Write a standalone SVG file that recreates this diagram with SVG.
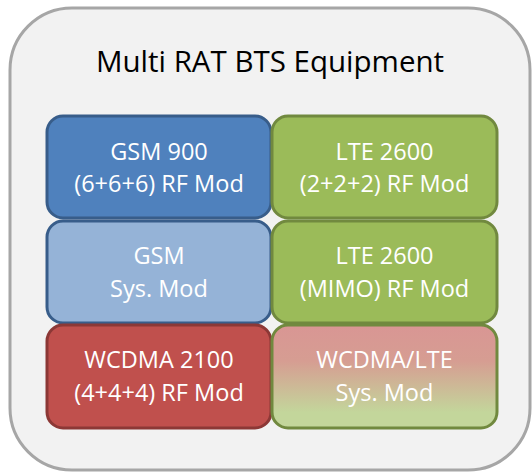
<svg xmlns="http://www.w3.org/2000/svg" width="532" height="472" viewBox="0 0 532 472">
<defs>
<linearGradient id="g1" x1="0" y1="0" x2="0" y2="1">
<stop offset="0" stop-color="#d99694"/>
<stop offset="0.35" stop-color="#d69d92"/>
<stop offset="0.85" stop-color="#c3d69b"/>
<stop offset="1" stop-color="#c3d69b"/>
</linearGradient>
</defs>
<style>
.box{stroke-width:3}
.t{font-family:"Open Sans","Liberation Sans",sans-serif;font-size:23.5px;fill:#ffffff;text-anchor:middle}
.title{font-family:"Open Sans","Liberation Sans",sans-serif;font-size:29.5px;fill:#000000;text-anchor:middle}
</style>
<g id="outer">
<rect x="10" y="8" width="520" height="462" rx="62" ry="62" fill="#f2f2f2" stroke="#a6a6a6" stroke-width="3"/>
<text class="title" x="270" y="72">Multi RAT BTS Equipment</text>
</g>
<g id="gsm900">
<rect class="box" x="47" y="116" width="224" height="102" rx="16" fill="#4f81bd" stroke="#385d8a"/>
<text class="t" x="159" y="160">GSM 900</text>
<text class="t" x="159" y="192">(6+6+6) RF Mod</text>
</g>
<g id="lte2600rf">
<rect class="box" x="272" y="116" width="225" height="102" rx="16" fill="#9bbb59" stroke="#71893f"/>
<text class="t" x="384.5" y="160">LTE 2600</text>
<text class="t" x="384.5" y="192">(2+2+2) RF Mod</text>
</g>
<g id="gsmsys">
<rect class="box" x="47" y="221" width="224" height="102" rx="16" fill="#95b3d7" stroke="#385d8a"/>
<text class="t" x="159" y="264">GSM</text>
<text class="t" x="159" y="297">Sys. Mod</text>
</g>
<g id="ltemimo">
<rect class="box" x="272" y="221" width="225" height="102" rx="16" fill="#9bbb59" stroke="#71893f"/>
<text class="t" x="384.5" y="264">LTE 2600</text>
<text class="t" x="384.5" y="297">(MIMO) RF Mod</text>
</g>
<g id="wcdma">
<rect class="box" x="47" y="325" width="224" height="103" rx="16" fill="#c0504d" stroke="#8c3836"/>
<text class="t" x="159" y="368">WCDMA 2100</text>
<text class="t" x="159" y="401">(4+4+4) RF Mod</text>
</g>
<g id="wcdmalte">
<rect class="box" x="272" y="325" width="225" height="103" rx="16" fill="url(#g1)" stroke="#71893f"/>
<text class="t" x="384.5" y="368">WCDMA/LTE</text>
<text class="t" x="384.5" y="401">Sys. Mod</text>
</g>
<g id="connectors"/>
</svg>
